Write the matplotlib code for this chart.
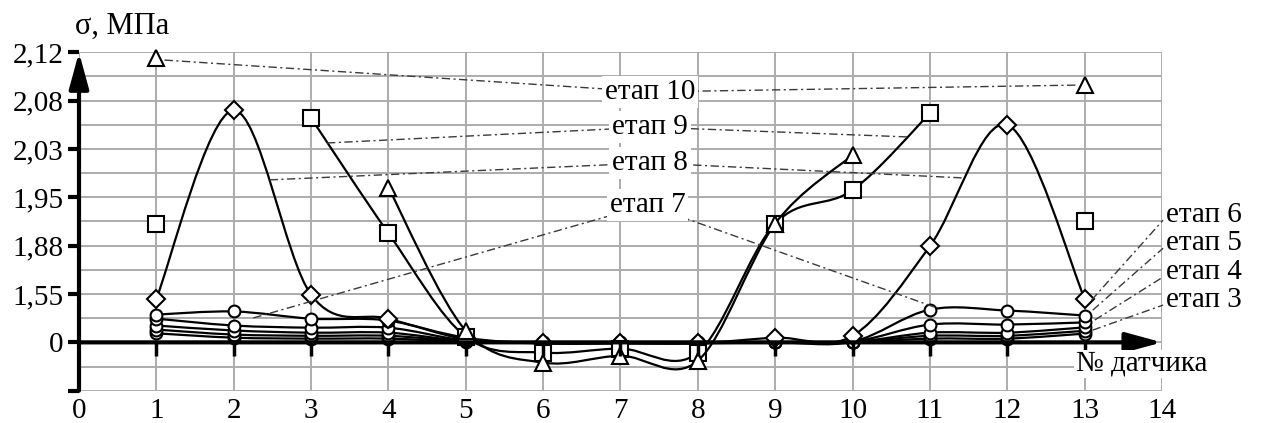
import numpy as np
import matplotlib
matplotlib.use("Agg")
import matplotlib.pyplot as plt
from matplotlib.path import Path
from matplotlib.patches import PathPatch

plt.rcParams['font.family'] = ['Liberation Serif', 'DejaVu Serif']

nan = np.nan
sensors = np.arange(1, 14)

# sigma, MPa for each stage at sensors 1..13 (nan = point not shown)
stage3 = [0.29, 0.15, 0.12, 0.12, 0.02, 0.0, 0.0, 0.0, 0.0, 0.0, 0.12, 0.12, 0.28]
stage4 = [0.41, 0.25, 0.21, 0.21, 0.03, 0.0, 0.0, 0.0, 0.0, 0.01, 0.21, 0.21, 0.37]
stage5 = [0.54, 0.38, 0.31, 0.31, 0.04, -0.01, -0.01, -0.01, 0.0, 0.01, 0.31, 0.31, 0.48]
stage6 = [0.76, 0.54, 0.47, 0.47, 0.06, -0.02, -0.02, -0.02, 0.0, 0.02, 0.57, 0.57, 0.64]
stage7 = [0.89, 0.99, 0.76, 0.70, 0.10, -0.03, -0.03, -0.03, 0.0, 0.02, 1.05, 1.02, 0.86]
stage8 = [1.40, 2.070, 1.53, 0.76, 0.15, -0.03, -0.03, -0.03, 0.15, 0.21, 1.877, 2.055, 1.40]
stage9 = [1.911, nan, 2.062, 1.898, 0.18, -0.33, -0.20, -0.33, 1.912, 1.962, 2.067, nan, 1.915]
stage10 = [2.115, nan, nan, 1.966, 0.37, -0.65, -0.43, -0.59, 1.912, 2.02, nan, nan, 2.093]

# the value axis is drawn in equal bands between these labelled values
band_vals = np.array([0, 1.55, 1.88, 1.95, 2.03, 2.08, 2.12])
band_pos = np.arange(len(band_vals), dtype=float)
ytick_vals = [-1.55, 0, 1.55, 1.88, 1.95, 2.03, 2.08, 2.12]
ytick_labels = ['', '0', '1,55', '1,88', '1,95', '2,03', '2,08', '2,12']
xticks = np.arange(0, 15)


def forward(v):
    v = np.asarray(v, dtype=float)
    return np.where(v < 0, v / 1.55, np.interp(v, band_vals, band_pos))


def inverse(p):
    p = np.asarray(p, dtype=float)
    return np.where(p < 0, p * 1.55, np.interp(p, band_pos, band_vals))


def smooth_path(xs, ys):
    # Excel-like smoothed line through each unbroken run of points
    xs = np.asarray(xs, dtype=float)
    pos = forward(np.asarray(ys, dtype=float))
    idx = np.flatnonzero(~np.isnan(pos))
    runs = np.split(idx, np.flatnonzero(np.diff(idx) > 1) + 1)
    verts, codes = [], []
    for run in runs:
        if len(run) < 2:
            continue
        pts = np.column_stack([xs[run], pos[run]])
        n = len(pts)
        verts.append(pts[0])
        codes.append(Path.MOVETO)
        for i in range(n - 1):
            p0, p1 = pts[max(i - 1, 0)], pts[i]
            p2, p3 = pts[i + 1], pts[min(i + 2, n - 1)]
            verts += [p1 + (p2 - p0) / 6, p2 - (p3 - p1) / 6, p2]
            codes += [Path.CURVE4] * 3
    verts = np.array(verts)
    verts[:, 1] = inverse(verts[:, 1])
    return Path(verts, codes)


fig = plt.figure(figsize=(12.63, 4.23), dpi=100)
ax = fig.add_axes([79 / 1263, 1 - 390.7 / 423, 1083 / 1263, 338.4 / 423])
ax.set_yscale('function', functions=(forward, inverse))
ax.set_xlim(0, 14)
ax.set_ylim(-1.55, 2.12)

ax.set_xticks(xticks)
ax.set_yticks(ytick_vals)
ax.set_yticklabels(ytick_labels)
ax.set_yticks(inverse(np.arange(-0.5, 6, 1.0)), minor=True)
ax.grid(True, which='both', color='#acacac', lw=1.4)
ax.set_axisbelow(True)
for s in ax.spines.values():
    s.set_visible(False)
ax.tick_params(axis='x', length=0, pad=5, labelsize=21)
ax.tick_params(axis='y', which='major', length=8, width=3, direction='out',
               pad=3, labelsize=21)
ax.tick_params(axis='y', which='minor', length=0)

series = [
    (stage3, 'o', 8.5), (stage4, 'o', 8.5), (stage5, 'o', 8.5),
    (stage6, 'o', 8.5), (stage7, 'o', 8.5), (stage8, 'D', 9),
    (stage9, 's', 11), (stage10, '^', 12),
]
for k, (vals, mk, ms) in enumerate(series):
    z = 3 + k * 0.1
    ax.add_patch(PathPatch(smooth_path(sensors, vals), fill=False,
                           ec='black', lw=1.6, zorder=z))
    ax.plot(sensors, vals, ls='none', marker=mk, ms=ms, mfc='white',
            mec='black', mew=1.5, zorder=z + 0.05, clip_on=False)

# axis arrows and ticks on the zero line
arrow = dict(arrowstyle='-|>,head_length=1.1,head_width=0.3',
             mutation_scale=20, lw=3, color='black', shrinkA=0, shrinkB=0)
ax.annotate('', xy=(0, 1.0), xytext=(0, 0), xycoords='axes fraction',
            arrowprops=arrow, annotation_clip=False, zorder=7)
ax.annotate('', xy=(14, 0), xytext=(0, 0), xycoords='data',
            arrowprops=arrow, annotation_clip=False, zorder=7)
ax.plot(xticks[1:14], np.zeros(13), ls='none', marker=3, ms=10, mew=2.5,
        color='black', zorder=7, clip_on=False)

# stage labels with dash-dot leaders (axes fraction)
leader = dict(transform=ax.transAxes, color='#3a3a3a', lw=1.0,
              ls=(0, (6, 2.5, 1.5, 2.5)), clip_on=False, zorder=8)
mid_labels = [
    ('етап 10', (0.527, 0.883), [(0.079, 0.977), (0.920, 0.903)]),
    ('етап 9', (0.527, 0.779), [(0.229, 0.732), (0.7645, 0.750)]),
    ('етап 8', (0.527, 0.673), [(0.176, 0.623), (0.815, 0.629)]),
    ('етап 7', (0.525, 0.549), [(0.161, 0.215), (0.790, 0.247)]),
]
for text, (tx, ty), ends in mid_labels:
    for ex, ey in ends:
        ax.plot([ex, tx], [ey, ty], **leader)
    ax.text(tx, ty, text, transform=ax.transAxes, ha='center', va='center',
            fontsize=21, zorder=9,
            bbox=dict(fc='white', ec='none', pad=2))

side_labels = [
    ('етап 6', 0.519, (0.935, 0.268)),
    ('етап 5', 0.436, (0.936, 0.238)),
    ('етап 4', 0.351, (0.938, 0.209)),
    ('етап 3', 0.268, (0.936, 0.179)),
]
for text, ty, (ex, ey) in side_labels:
    ax.plot([ex, 1.001], [ey, ty - 0.015], **leader)
    ax.text(1.004, ty, text, transform=ax.transAxes, ha='left', va='center',
            fontsize=21, zorder=9)

ax.text(0.04, 1.078, 'σ, МПа', transform=ax.transAxes, ha='center',
        va='center', fontsize=22)
ax.text(0.981, 0.079, '№ датчика', transform=ax.transAxes, ha='center',
        va='center', fontsize=21, zorder=9,
        bbox=dict(fc='white', ec='none', pad=1))

fig.savefig('out.png', dpi=100)
